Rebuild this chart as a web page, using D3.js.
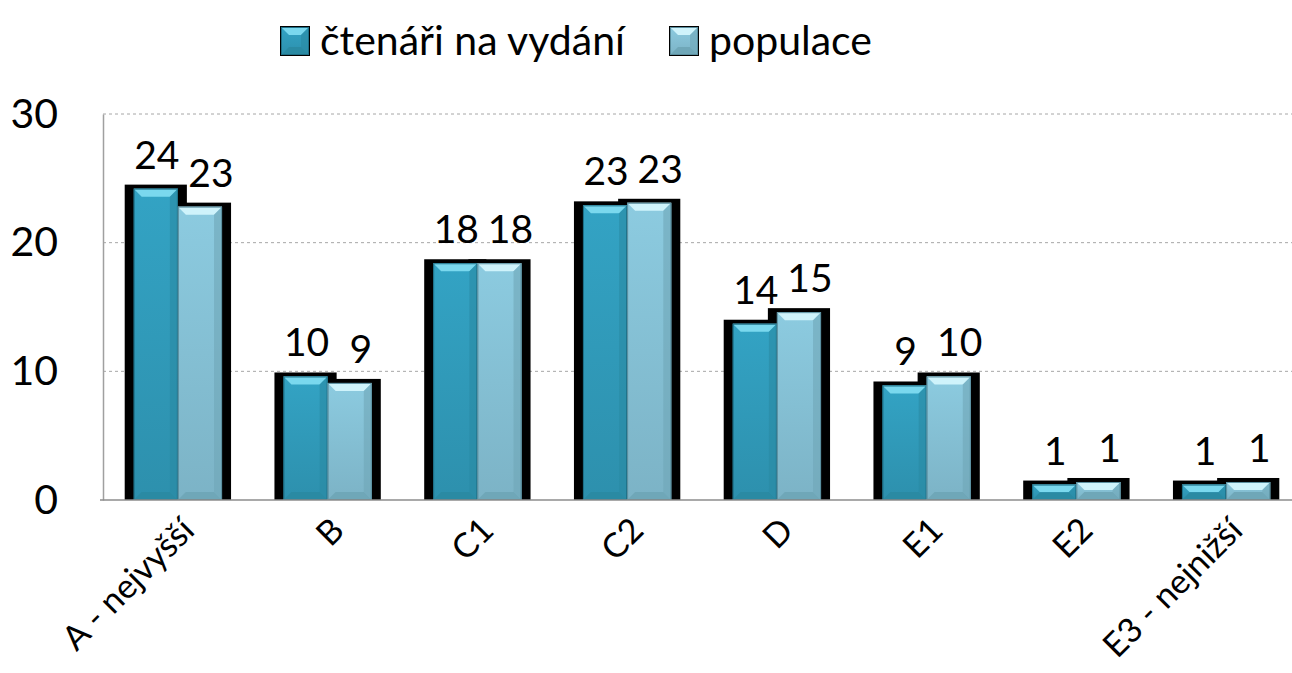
<!DOCTYPE html>
<html lang="cs">
<head>
<meta charset="UTF-8">
<title>čtenáři na vydání vs populace</title>
<script src="https://d3js.org/d3.v7.min.js"></script>
<style>
  body { margin:0; background:#fff; }
  svg text { font-family: Lato, "Open Sans", sans-serif; fill:#000; }
  .grid line { stroke:#a6a6a6; stroke-dasharray:3,3; }
</style>
</head>
<body>
<script>
var categories = ["A - nejvyšší", "B", "C1", "C2", "D", "E1", "E2", "E3 - nejnižší"];
var seriesNames = ["čtenáři na vydání", "populace"];
var readers = [24.2, 9.6, 18.4, 22.9, 13.7, 8.9, 1.2, 1.2];
var population = [22.8, 9.1, 18.4, 23.1, 14.6, 9.6, 1.4, 1.4];
var yTicks = [0, 10, 20, 30];

var width = 1292, height = 673;
var plotLeft = 103, plotRight = 1301, plotTop = 114, plotBottom = 500;

var svg = d3.select("body").append("svg")
    .attr("width", width).attr("height", height);

var colors = [
  {base:"#33a3c4", hi:"#7ad8ee", lo:"#2a8aa3", dk:"#1e6f86"},
  {base:"#8ccbe0", hi:"#cff3fb", lo:"#6fa7b8", dk:"#5a8e9e"}
];

var defs = svg.append("defs");
colors.forEach(function(c, i) {
  var g = defs.append("linearGradient").attr("id", "g" + i)
      .attr("x1", 0).attr("y1", 0).attr("x2", 0).attr("y2", 1);
  g.append("stop").attr("offset", "0%").attr("stop-color", c.base);
  g.append("stop").attr("offset", "100%").attr("stop-color", d3.color(c.base).darker(0.35));
});

var x = d3.scaleBand().domain(categories).range([plotLeft, plotRight])
    .paddingInner(0.41).paddingOuter(0.205);
var x1 = d3.scaleBand().domain(seriesNames).range([0, x.bandwidth()]);
var y = d3.scaleLinear().domain([0, 30]).range([plotBottom, plotTop]);

// gridlines
svg.append("g").attr("class", "grid")
  .selectAll("line").data(yTicks.filter(function(t){ return t > 0; }))
  .join("line")
  .attr("x1", plotLeft).attr("x2", width)
  .attr("y1", function(d){ return y(d); }).attr("y2", function(d){ return y(d); });

// axes
var yAxis = d3.axisLeft(y).tickValues(yTicks).tickSize(0).tickPadding(0);
var yg = svg.append("g").attr("transform", "translate(" + plotLeft + ",0)").call(yAxis);
yg.select(".domain").attr("stroke", "#a0a0a0").attr("stroke-width", 1.5);
yg.selectAll("text").attr("x", -45).attr("font-size", 41).attr("font-family", "Lato, sans-serif");

function bevelBar(g, bx, by, bw, bh, c, gi) {
  var b = Math.min(8, bh / 2);
  g.append("rect").attr("x", bx).attr("y", by).attr("width", bw).attr("height", bh)
    .attr("fill", "url(#g" + gi + ")");
  // top bevel
  g.append("path").attr("d", "M" + bx + "," + by + "H" + (bx + bw) + "L" + (bx + bw - b) + "," + (by + b) +
    "H" + (bx + b) + "Z").attr("fill", c.hi);
  // bottom bevel
  g.append("path").attr("d", "M" + bx + "," + (by + bh) + "H" + (bx + bw) + "L" + (bx + bw - b) + "," + (by + bh - b) +
    "H" + (bx + b) + "Z").attr("fill", c.lo);
  // right side
  g.append("path").attr("d", "M" + (bx + bw) + "," + by + "V" + (by + bh) + "L" + (bx + bw - b) + "," + (by + bh - b) +
    "V" + (by + b) + "Z").attr("fill", c.lo).attr("opacity", 0.6);
  g.append("rect").attr("x", bx + 0.5).attr("y", by + 0.5).attr("width", bw - 1).attr("height", bh - 1)
    .attr("fill", "none").attr("stroke", c.dk).attr("stroke-width", 1);
}

var flat = [];
categories.forEach(function(c, i) {
  flat.push({cat:c, s:0, v:readers[i]});
  flat.push({cat:c, s:1, v:population[i]});
});

// black shadows
svg.append("g").selectAll("rect").data(flat).join("rect")
  .attr("x", function(d){ return x(d.cat) + x1(seriesNames[d.s]) - 9; })
  .attr("y", function(d){ return y(d.v) - 4; })
  .attr("width", x1.bandwidth() + 18)
  .attr("height", function(d){ return plotBottom - y(d.v) + 4; })
  .attr("fill", "#000");

var barsG = svg.append("g");
flat.forEach(function(d) {
  var bx = x(d.cat) + x1(seriesNames[d.s]);
  bevelBar(barsG, bx, y(d.v), x1.bandwidth(), plotBottom - y(d.v), colors[d.s], d.s);
});

// bottom axis line
svg.append("line").attr("x1", plotLeft - 3).attr("x2", width).attr("y1", plotBottom).attr("y2", plotBottom)
  .attr("stroke", "#8c8c8c").attr("stroke-width", 1.5);

// value labels
svg.append("g").selectAll("text").data(flat).join("text")
  .attr("x", function(d){ return x(d.cat) + x1(seriesNames[d.s]) + x1.bandwidth() / 2 + (d.s ? 11 : 1); })
  .attr("y", function(d){ return y(d.v) - 20; })
  .attr("text-anchor", "middle").attr("font-size", 39)
  .text(function(d){ return Math.round(d.v); });

// category labels
svg.append("g").selectAll("text").data(categories).join("text")
  .attr("transform", function(d){ return "translate(" + (x(d) + x.bandwidth() / 2 + 10) + "," + 524 + ") rotate(-45)"; })
  .attr("text-anchor", "end").attr("dy", "0.35em").attr("font-size", 34)
  .text(function(d){ return d; });

// legend
var legend = svg.append("g");
var legItems = [{x:281, s:0}, {x:670, s:1}];
legItems.forEach(function(it) {
  var sq = 28;
  legend.append("rect").attr("x", it.x - 1).attr("y", 26).attr("width", sq + 2).attr("height", sq + 2).attr("fill", "#000");
  bevelBar(legend, it.x, 27, sq, sq, colors[it.s], it.s);
  legend.append("text").attr("x", it.x + sq + 11).attr("y", 55).attr("font-size", 41)
    .text(seriesNames[it.s]);
});
</script>
</body>
</html>
